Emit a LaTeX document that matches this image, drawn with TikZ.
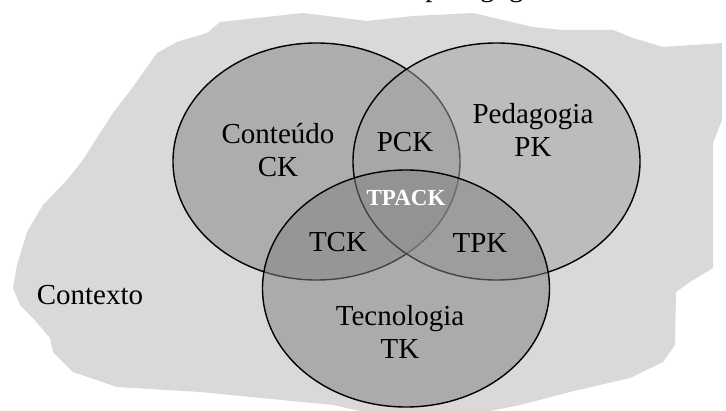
\documentclass[tikz,border=0pt]{standalone}
\usepackage{fontspec}
\setmainfont{Liberation Serif}
\usetikzlibrary{shapes}

\definecolor{contextgray}{gray}{0.85}
\definecolor{ckgray}{gray}{0.52}
\definecolor{pkgray}{gray}{0.64}
\definecolor{tkgray}{gray}{0.51}

\begin{document}
\begin{tikzpicture}[x = 0.5pt, y = -0.5pt, font = \fontsize{14.5}{16.5}\selectfont]
	\tikzstyle{setStyle} = [shape = ellipse, minimum width = 143.5pt, minimum height = 118.5pt, inner sep = 0pt, draw = black, line width = 0.7pt, fill opacity = 0.52]
	\tikzstyle{labelStyle} = [align = center, inner sep = 0pt]
	\tikzstyle{coreStyle} = [inner sep = 0pt, text = white, font = \fontsize{11.5}{13}\selectfont\bfseries]
	\useasboundingbox (0, 0) rectangle (726, 411);
	\clip (0, 0) rectangle (726, 411);
	% context
	\fill[contextgray] (303, 13) -- (367, 21) -- (413, 16) -- (473, 13) -- (533, 27) -- (563, 30) -- (613, 30)
		-- (633, 38) -- (663, 47) -- (722, 43) -- (722, 120) -- (713, 143) -- (713, 268) -- (690, 282)
		-- (676, 292) -- (675, 345) -- (663, 362) -- (630, 378) -- (570, 392) -- (520, 405) -- (490, 411)
		-- (360, 411) -- (333, 405) -- (200, 392) -- (117, 387) -- (73, 372) -- (53, 352) -- (50, 338)
		-- (33, 318) -- (20, 305) -- (13, 288) -- (17, 265) -- (27, 232) -- (43, 205) -- (67, 180)
		-- (83, 160) -- (100, 133) -- (113, 113) -- (133, 87) -- (147, 67) -- (157, 53) -- (177, 42)
		-- (207, 33) -- (220, 22) -- cycle;
	\node[anchor = base west, inner sep = 0pt] (title) at (425, -3) {pedagógico};
	% sets
	\node[setStyle, fill = ckgray] (conteudo) at (316.5, 161.5) {};
	\node[setStyle, fill = pkgray] (pedagogia) at (496.5, 161.5) {};
	\node[setStyle, fill = tkgray] (tecnologia) at (406, 288.5) {};
	% labels
	\node[labelStyle] (ck) at (278, 150) {Conteúdo\\CK};
	\node[labelStyle] (pk) at (533, 130) {Pedagogia\\PK};
	\node[labelStyle] (tk) at (400, 332) {Tecnologia\\TK};
	\node[labelStyle] (pck) at (405, 142) {PCK};
	\node[labelStyle] (tck) at (338, 242) {TCK};
	\node[labelStyle] (tpk) at (480, 243) {TPK};
	\node[coreStyle] (tpack) at (406, 198) {TPACK};
	\node[labelStyle] (contexto) at (90, 295) {Contexto};
\end{tikzpicture}
\end{document}
